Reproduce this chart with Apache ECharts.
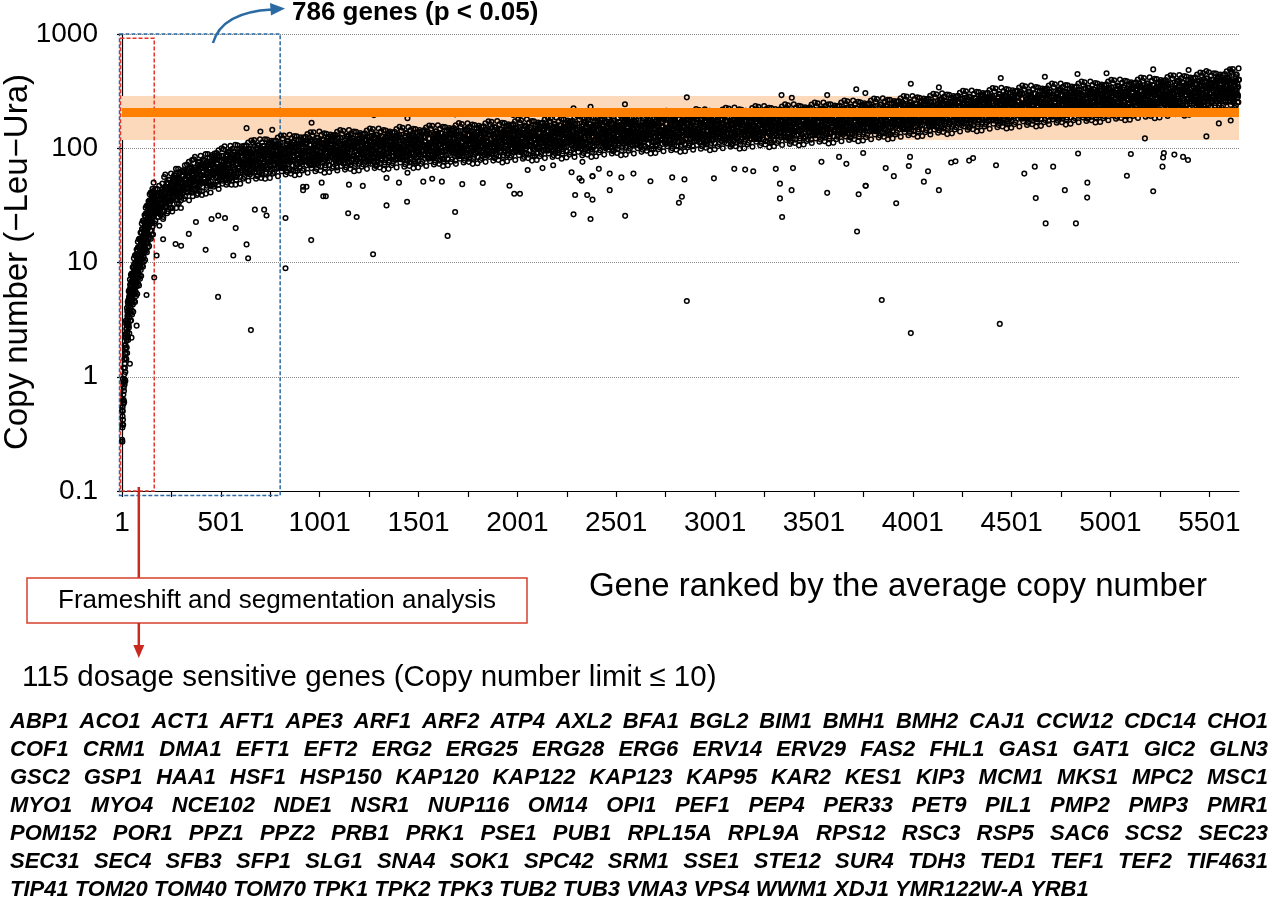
<!DOCTYPE html>
<html>
<head>
<meta charset="utf-8">
<script src="https://cdn.jsdelivr.net/npm/echarts@6/dist/echarts.min.js"></script>
<style>
  html, body { margin: 0; padding: 0; background: #fff; }
  #chart { width: 1280px; height: 904px; }
</style>
</head>
<body>
<div id="chart"></div>
<script>
// copy number of the lowest ranked genes, ranks 1..160 (two replicates per rank)
var headCopy = [
  0.28, 0.36, 0.45, 0.5, 0.42, 0.62, 0.7, 0.58, 0.8, 0.75,
  0.9, 1.05, 0.85, 1.3, 1.2, 1.6, 1.1, 1.9, 1.45, 2.2,
  1.8, 2.6, 2.1, 3.0, 2.4, 2.8, 3.4, 2.2, 3.8, 3.1,
  4.2, 3.5, 2.9, 4.6, 3.9, 5.0, 3.3, 4.4, 5.3, 3.7,
  4.8, 5.6, 4.1, 6.2, 5.1, 4.5, 5.9, 6.8, 4.9, 5.4,
  6.4, 5.8, 7.3, 5.2, 6.9, 6.1, 7.8, 5.5, 6.6, 8.2,
  7.0, 6.3, 8.6, 7.5, 5.9, 8.0, 9.1, 7.2, 6.7, 8.8,
  9.6, 7.7, 8.3, 10.2, 7.4, 9.0, 11.0, 8.5, 9.8, 7.9,
  10.6, 9.3, 12.0, 8.7, 11.4, 10.0, 13.2, 9.5, 11.8, 10.9,
  12.6, 9.9, 14.0, 11.2, 13.5, 10.4, 15.1, 12.2, 11.6, 14.6,
  13.0, 16.2, 12.4, 15.5, 11.9, 17.3, 13.8, 16.8, 14.3, 18.5,
  15.0, 13.4, 19.2, 16.5, 14.7, 20.4, 17.6, 15.8, 21.5, 18.1,
  16.9, 22.8, 19.5, 17.2, 24.0, 20.6, 18.4, 23.1, 21.2, 26.0,
  19.8, 24.6, 22.4, 27.5, 20.9, 25.3, 23.7, 28.6, 21.8, 26.7,
  24.4, 30.1, 22.9, 27.9, 25.8, 31.5, 23.6, 29.2, 26.4, 33.0,
  27.1, 24.8, 30.7, 28.3, 34.2, 25.9, 31.9, 29.5, 26.6, 35.5
];
var headCopy2 = [
  0.51, 0.27, 0.54, 0.38, 0.96, 0.38, 0.9, 0.63, 1.2, 0.6,
  0.6, 1.42, 0.9, 1.88, 0.94, 1.78, 0.92, 2.36, 1.6, 3.1,
  2.9, 1.43, 2.64, 1.8, 4.0, 1.61, 3.7, 2.47, 4.5, 2.24,
  2.1, 4.7, 2.8, 5.6, 2.7, 4.9, 2.4, 5.8, 3.8, 7.1,
  6.4, 3.1, 5.5, 3.6, 7.8, 3.1, 6.7, 4.4, 8.0, 3.8,
  3.5, 7.7, 4.6, 9.1, 4.3, 7.6, 3.7, 9.1, 5.9, 10.9,
  9.7, 4.6, 8.4, 5.3, 11.5, 4.5, 9.9, 6.5, 11.7, 5.5,
  5.1, 11.3, 6.6, 13.0, 6.2, 10.9, 5.3, 12.8, 8.2, 15.2,
  13.6, 6.5, 11.6, 7.4, 16.0, 6.3, 13.7, 9.0, 16.2, 7.7,
  7.2, 15.7, 9.3, 18.3, 8.6, 15.4, 7.6, 18.2, 11.7, 21.9,
  19.6, 9.4, 16.8, 10.7, 23.2, 9.2, 19.8, 13.0, 23.3, 11.1,
  10.2, 22.5, 13.2, 26.0, 12.2, 21.6, 10.5, 25.3, 16.2, 30.2,
  27.0, 12.8, 22.9, 14.6, 31.4, 12.3, 26.7, 17.4, 31.1, 14.7,
  13.6, 29.8, 17.5, 34.4, 16.2, 28.5, 13.9, 33.2, 21.3, 39.6,
  35.2, 16.7, 30.0, 19.0, 41.0, 16.1, 34.6, 22.6, 40.4, 19.0,
  17.6, 38.4, 22.5, 44.2, 20.7, 36.4, 17.6, 42.2, 27.0, 50.0
];

// rest of the ranking, every rank from 161 on, split in five interleaved lists:
// bodyCopy starts at rank 161, bodyCopy4 at 162, bodyCopy2 at 163,
// bodyCopy3 at 164, bodyCopy5 at 165; each steps 5 ranks
var bodyStep = 5;
var bodyStart = 161;
var bodyCopy = [
  30, 28, 35, 31, 39, 27, 35, 31, 40, 28,
  39, 44, 34, 50, 37, 41, 32, 46, 36, 43,
  54, 42, 47, 39, 51, 44, 60, 40, 46, 49,
  46, 54, 49, 60, 42, 56, 51, 62, 44, 53,
  63, 53, 43, 60, 56, 67, 51, 59, 50, 71,
  62, 55, 69, 59, 76, 51, 65, 57, 72, 48,
  78, 60, 67, 55, 73, 63, 86, 57, 65, 70,
  68, 76, 60, 88, 65, 72, 56, 80, 63, 75,
  82, 69, 56, 78, 73, 87, 67, 76, 64, 92,
  69, 80, 72, 89, 62, 83, 75, 92, 65, 78,
  80, 70, 90, 76, 98, 66, 84, 74, 93, 62,
  98, 76, 85, 70, 91, 80, 108, 72, 82, 88,
  82, 93, 73, 106, 79, 88, 68, 97, 77, 91,
  97, 81, 66, 92, 86, 102, 78, 90, 76, 108,
  79, 93, 84, 102, 72, 96, 87, 107, 76, 90,
  91, 80, 102, 86, 111, 76, 96, 84, 106, 71,
  90, 101, 80, 116, 86, 96, 74, 106, 84, 100,
  111, 86, 96, 79, 103, 90, 122, 82, 93, 100,
  85, 99, 89, 109, 77, 103, 93, 114, 81, 96,
  107, 89, 73, 102, 95, 112, 86, 99, 84, 119,
  97, 85, 109, 92, 118, 81, 102, 89, 113, 76,
  116, 89, 100, 82, 108, 94, 127, 85, 97, 104,
  96, 108, 85, 124, 92, 102, 79, 113, 89, 106,
  89, 104, 94, 115, 81, 108, 98, 120, 85, 101,
  112, 94, 77, 107, 100, 118, 91, 104, 88, 125,
  102, 90, 114, 97, 124, 85, 107, 94, 118, 80,
  100, 112, 89, 129, 96, 106, 82, 117, 93, 110,
  123, 95, 106, 87, 114, 100, 135, 90, 103, 110,
  94, 110, 100, 122, 86, 114, 104, 127, 90, 107,
  119, 100, 81, 113, 106, 125, 96, 110, 93, 133,
  109, 96, 122, 104, 133, 90, 114, 100, 126, 85,
  130, 100, 112, 92, 121, 106, 143, 96, 109, 117,
  109, 122, 96, 140, 104, 115, 90, 128, 101, 120,
  125, 105, 86, 120, 112, 132, 102, 116, 98, 140,
  102, 120, 108, 132, 93, 124, 113, 138, 98, 116,
  116, 102, 130, 110, 142, 96, 122, 107, 135, 90,
  114, 129, 101, 148, 110, 122, 94, 135, 106, 126,
  140, 108, 121, 100, 131, 114, 155, 104, 118, 126,
  107, 125, 113, 138, 97, 130, 118, 144, 102, 121,
  135, 113, 93, 129, 121, 143, 110, 126, 106, 151,
  123, 108, 138, 117, 150, 102, 129, 113, 143, 96,
  148, 114, 128, 105, 138, 120, 163, 109, 124, 133,
  122, 137, 108, 158, 117, 130, 101, 144, 113, 135,
  114, 133, 120, 147, 104, 138, 125, 154, 109, 129,
  143, 120, 98, 137, 128, 151, 116, 133, 112, 160,
  131, 115, 147, 124, 160, 109, 138, 121, 152, 102,
  128, 144, 114, 165, 123, 136, 106, 150, 119, 141,
  158, 122, 137, 113, 147, 129, 174, 117, 133, 142,
  120, 140, 127, 155, 109, 146, 132, 162, 115, 136,
  152, 127, 104, 145, 136, 160, 123, 141, 119, 170,
  138, 121, 155, 131, 168, 115, 145, 127, 160, 108,
  165, 127, 143, 118, 154, 134, 182, 122, 139, 148,
  137, 154, 121, 176, 131, 145, 113, 161, 127, 151,
  127, 149, 134, 164, 116, 154, 140, 172, 122, 144,
  161, 135, 110, 154, 144, 170, 131, 149, 126, 180,
  146, 128, 164, 139, 178, 121, 153, 134, 169, 114,
  144, 161, 127, 185, 138, 152, 118, 169, 133, 158,
  176, 136, 152, 125, 164, 143, 194, 130, 148, 158,
  134, 157, 142, 174, 122, 163, 148, 181, 128, 153,
  169, 141, 116, 161, 150, 178, 137, 157, 132, 188,
  154, 136, 172, 146, 188, 128, 162, 142, 179, 120,
  184, 142, 159, 131, 172, 150, 203, 136, 154, 165,
  152, 171, 135, 196, 146, 162, 126, 179, 141, 168,
  142, 165, 149, 183, 129, 172, 156, 191, 135, 161,
  179, 150, 122, 171, 159, 188, 145, 166, 140, 200,
  163, 143, 183, 155, 199, 135, 171, 150, 189, 127,
  160, 180, 142, 206, 153, 170, 132, 188, 149, 177,
  197, 152, 170, 140, 184, 160, 217, 145, 165, 177,
  150, 176, 159, 194, 137, 183, 166, 203, 144, 171,
  191, 160, 131, 182, 170, 201, 155, 177, 150, 213,
  174, 153, 195, 165, 212, 144, 183, 160, 202, 136,
  209, 161, 181, 149, 195, 170, 230, 154, 175, 188,
  174, 195, 154, 224, 166, 184, 143, 204, 161, 192,
  162, 189, 171, 209, 147, 197, 178, 218, 155, 184,
  205, 172, 141, 196, 183, 216, 167, 191, 161, 229,
  188, 165, 211, 179, 229, 156, 197, 173, 218, 147,
  185, 208, 164, 239, 178, 197, 153, 218, 172, 204,
  229, 177, 198, 163, 213, 186, 252, 169, 192, 206,
  175, 205, 185, 227, 160, 213, 193, 236, 167, 199,
  223, 187, 153, 213, 199, 235, 181, 207, 175, 249,
  205, 180, 230, 195, 250, 170, 215, 189, 238, 160,
  247, 190, 213, 176, 230, 201, 272, 182, 207, 222,
  207, 232, 183, 266, 198, 219, 170, 243, 192, 228,
  193, 226, 204, 250, 176, 234, 213, 260, 184, 219,
  245, 206, 168, 234, 219, 259, 199, 228, 192, 274,
  225, 198, 252, 214, 275, 187, 236, 207, 261, 176,
  222, 250, 197, 286, 213, 236, 183, 261, 206, 245,
  274, 211, 237, 195, 255, 223, 302, 202, 230, 246,
  209, 244, 221, 270, 190, 254, 230, 282, 200, 237,
  264, 221, 181, 252, 236, 278, 214, 245, 207, 295,
  242, 213, 271, 230, 295, 201, 254, 223, 281, 189,
  289, 223, 250, 206, 270, 235, 319, 213, 243, 260,
  241, 270, 213, 310, 231, 255, 198, 283, 223, 265,
  224, 262, 237, 290, 204, 272, 247, 302, 214, 255,
  283, 237, 194, 270, 252, 298, 230, 263, 222, 316,
  258, 227, 289, 245, 315, 214, 271, 237, 299, 201,
  254, 286, 225, 328, 244, 270, 210, 299, 236, 280,
  314, 242, 271, 223, 293, 255, 346, 231, 263, 282,
  240, 281, 254, 311, 219, 292, 265, 324, 230, 273,
  304, 255, 208, 290, 271, 321, 247, 282, 238, 340,
  278, 245, 311, 264, 339, 231, 292, 256, 322, 217,
  333, 257, 288, 237, 310, 271, 367, 245, 279, 299,
  278, 313, 247, 359, 267, 296, 230, 327, 258, 307,
  260, 304, 274, 336, 237, 315, 286, 350, 248, 295,
  330, 276, 226, 315, 294, 347, 267, 306, 258, 368,
  302, 266, 338, 287, 368, 251, 317, 278, 350, 236,
  299, 336, 265, 385, 286, 317, 246, 351, 277, 330,
  372, 287, 321, 265, 347, 302, 410, 274, 312, 334,
  287, 336, 304, 371, 262, 349, 317, 388, 275, 326,
  370, 310, 253, 353, 330, 390, 300, 343
];
var bodyStart2 = 163;
var bodyCopy2 = [
  22, 44, 29, 39, 25, 47, 33, 27, 42, 24,
  56, 33, 45, 27, 50, 38, 30, 60, 35, 47,
  37, 50, 66, 33, 53, 41, 62, 30, 57, 45,
  36, 71, 48, 63, 41, 76, 53, 44, 68, 38,
  80, 47, 64, 39, 72, 55, 43, 86, 50, 67,
  50, 67, 89, 45, 72, 56, 83, 41, 77, 61,
  46, 90, 61, 81, 51, 96, 67, 56, 86, 49,
  98, 57, 79, 48, 88, 67, 53, 105, 62, 83,
  59, 80, 107, 53, 86, 67, 99, 49, 92, 73,
  54, 105, 71, 94, 60, 112, 79, 65, 100, 57,
  112, 66, 90, 54, 101, 77, 61, 120, 70, 94,
  66, 90, 120, 60, 96, 75, 111, 55, 103, 81,
  60, 116, 78, 104, 66, 124, 87, 72, 111, 63,
  122, 71, 98, 59, 110, 84, 66, 131, 77, 103,
  71, 96, 128, 64, 103, 80, 119, 59, 110, 87,
  64, 124, 84, 111, 71, 133, 93, 77, 118, 67,
  130, 76, 105, 63, 117, 89, 71, 140, 82, 110,
  75, 102, 135, 68, 109, 85, 126, 62, 117, 92,
  67, 129, 87, 116, 74, 139, 97, 81, 124, 70,
  134, 79, 108, 65, 121, 92, 73, 144, 84, 113,
  78, 105, 140, 70, 113, 87, 130, 64, 120, 95,
  69, 133, 90, 120, 76, 143, 100, 83, 127, 73,
  139, 81, 112, 67, 125, 95, 75, 149, 87, 117,
  80, 108, 144, 72, 116, 90, 134, 66, 124, 98,
  71, 137, 93, 123, 79, 147, 103, 86, 131, 75,
  143, 84, 115, 69, 129, 98, 78, 153, 90, 120,
  82, 111, 148, 74, 119, 93, 138, 68, 128, 101,
  73, 141, 96, 127, 81, 152, 106, 88, 135, 77,
  148, 87, 120, 72, 134, 102, 81, 159, 93, 125,
  86, 116, 154, 77, 124, 96, 143, 71, 133, 105,
  76, 148, 100, 133, 85, 159, 111, 93, 142, 81,
  154, 90, 124, 75, 139, 106, 84, 165, 97, 130,
  90, 121, 161, 81, 130, 101, 150, 74, 139, 110,
  79, 154, 104, 138, 88, 165, 115, 96, 147, 84,
  161, 94, 130, 78, 145, 110, 87, 173, 101, 136,
  93, 125, 167, 84, 135, 104, 155, 77, 144, 114,
  83, 160, 109, 144, 92, 172, 120, 100, 153, 87,
  167, 98, 134, 81, 150, 114, 90, 179, 105, 140,
  96, 130, 173, 86, 139, 108, 161, 79, 149, 118,
  85, 166, 112, 149, 95, 178, 124, 104, 159, 90,
  172, 101, 139, 84, 155, 118, 93, 185, 108, 145,
  100, 135, 180, 90, 145, 113, 168, 83, 155, 123,
  88, 171, 116, 154, 98, 184, 129, 107, 164, 93,
  179, 105, 145, 87, 161, 123, 97, 192, 113, 151,
  103, 139, 186, 93, 150, 116, 173, 85, 160, 126,
  92, 178, 121, 160, 102, 191, 134, 111, 170, 97,
  185, 108, 149, 90, 166, 127, 100, 198, 116, 156,
  107, 145, 193, 96, 155, 121, 180, 88, 166, 131,
  95, 184, 124, 165, 105, 197, 138, 115, 176, 100,
  192, 112, 155, 93, 173, 132, 104, 206, 121, 162,
  110, 149, 199, 99, 160, 124, 185, 91, 171, 135,
  98, 190, 129, 171, 109, 204, 143, 119, 182, 104,
  197, 116, 159, 96, 178, 135, 107, 212, 124, 166,
  114, 154, 206, 103, 166, 129, 192, 94, 177, 140,
  102, 197, 133, 177, 113, 212, 148, 123, 189, 107,
  204, 120, 165, 99, 184, 140, 111, 219, 128, 172,
  118, 160, 213, 107, 172, 133, 198, 98, 184, 145,
  104, 203, 137, 182, 116, 218, 152, 127, 194, 110,
  211, 124, 171, 103, 190, 145, 115, 227, 133, 178,
  122, 164, 219, 109, 176, 137, 204, 100, 188, 149,
  108, 209, 142, 188, 120, 225, 157, 131, 200, 114,
  218, 128, 176, 106, 197, 150, 119, 234, 137, 184,
  126, 170, 226, 113, 182, 141, 210, 104, 195, 154,
  111, 216, 146, 194, 124, 232, 162, 135, 207, 118,
  225, 132, 182, 109, 203, 155, 122, 242, 142, 190,
  130, 176, 235, 117, 189, 147, 218, 108, 202, 160,
  116, 224, 152, 201, 129, 241, 168, 140, 215, 122,
  234, 137, 189, 114, 210, 160, 127, 251, 147, 197,
  135, 183, 243, 122, 196, 152, 226, 112, 210, 166,
  120, 234, 158, 210, 134, 251, 175, 146, 224, 127,
  244, 143, 197, 118, 219, 167, 132, 261, 153, 205,
  142, 191, 255, 127, 205, 159, 237, 117, 219, 173,
  125, 243, 165, 218, 140, 261, 183, 152, 233, 132,
  255, 149, 206, 124, 229, 175, 138, 273, 160, 215,
  148, 200, 266, 133, 215, 167, 248, 122, 229, 181,
  132, 256, 173, 229, 147, 274, 192, 160, 244, 139,
  267, 157, 216, 130, 241, 183, 145, 287, 168, 225,
  155, 210, 279, 140, 225, 175, 260, 128, 241, 190,
  138, 268, 181, 240, 154, 288, 201, 167, 256, 146,
  281, 165, 227, 137, 253, 193, 153, 302, 177, 237,
  164, 221, 295, 148, 238, 185, 275, 135, 254, 201,
  146, 284, 192, 255, 163, 305, 213, 178, 272, 155,
  298, 175, 241, 145, 268, 204, 162, 320, 187, 251,
  174, 234, 312, 156, 252, 195, 291, 143, 269, 213,
  155, 301, 203, 270, 172, 323, 225, 188, 287, 164,
  315, 185, 254, 153, 284, 216, 171, 338, 198, 266,
  183, 247, 330, 165, 266, 206, 307, 151, 284, 224,
  162, 316, 213, 283, 181, 339, 237, 197, 302, 172,
  329, 193, 266, 160, 296, 226, 179, 353, 207, 277,
  190, 257, 343, 171, 276, 214, 319, 157, 295, 233,
  169, 329, 223, 295, 189, 353, 247, 206, 315, 179,
  343, 201, 277, 167, 309, 235, 186, 368, 216, 289,
  198, 268, 357, 179, 288, 223, 332, 164, 308, 243,
  176, 343, 232, 307, 197, 368, 257, 214, 328, 186,
  357, 209, 288, 173, 321, 245, 194, 383, 224, 301,
  206, 279, 372, 186, 299, 232, 346, 170, 320, 253,
  183, 356, 241, 320, 204, 383, 267, 223, 341, 194,
  372, 218, 301, 181, 335, 255, 202, 399, 234, 314,
  216, 292, 389, 194, 313, 243, 362, 178, 335, 265,
  192, 373, 252, 334, 214, 400, 279, 233, 356, 203,
  389, 228, 314, 189, 350, 267, 211, 417, 245, 328,
  226, 305, 406, 203, 327, 254, 378, 186, 350, 276,
  201, 390, 264, 350, 224, 419, 293, 244, 373, 212,
  409, 239, 330, 199, 368, 280, 222, 438, 257, 345,
  238, 321, 428, 214, 345, 267, 398, 196, 368, 291,
  211, 411, 278, 368, 236, 441, 308, 257, 393, 223,
  431, 253, 348, 209, 388, 296, 234, 462, 271, 363,
  252, 340, 454, 227, 365, 284, 422, 208, 391, 309,
  226, 439, 297, 394, 252, 472, 329, 275, 420, 239,
  466, 273, 376, 226, 420, 320, 253, 500
];
var bodyStart3 = 164;
var bodyCopy3 = [
  38, 23, 33, 44, 28, 21, 41, 30, 49, 25,
  36, 59, 31, 44, 28, 53, 34, 48, 28, 56,
  58, 41, 30, 52, 66, 37, 49, 35, 62, 45,
  62, 38, 54, 72, 45, 35, 67, 49, 79, 41,
  52, 84, 44, 62, 40, 75, 48, 68, 39, 80,
  79, 55, 40, 71, 89, 50, 66, 47, 84, 60,
  79, 48, 69, 91, 57, 44, 84, 62, 100, 52,
  64, 104, 54, 76, 50, 92, 59, 83, 48, 99,
  94, 66, 48, 84, 106, 60, 78, 56, 100, 72,
  92, 56, 80, 106, 67, 52, 99, 72, 117, 61,
  73, 118, 62, 87, 57, 106, 67, 95, 55, 113,
  105, 74, 54, 95, 119, 67, 88, 62, 112, 81,
  102, 62, 88, 117, 74, 57, 109, 80, 129, 67,
  79, 129, 67, 95, 62, 115, 73, 104, 60, 123,
  113, 79, 58, 101, 127, 72, 94, 67, 120, 86,
  109, 66, 95, 126, 79, 61, 116, 86, 138, 72,
  85, 138, 72, 101, 66, 123, 78, 111, 64, 131,
  119, 84, 61, 107, 134, 76, 100, 71, 127, 91,
  114, 69, 99, 131, 83, 64, 122, 89, 144, 75,
  87, 142, 74, 105, 68, 127, 81, 114, 66, 135,
  123, 86, 63, 111, 139, 79, 103, 73, 131, 94,
  118, 72, 102, 135, 85, 66, 125, 92, 149, 77,
  90, 147, 76, 108, 70, 131, 83, 118, 68, 140,
  127, 89, 65, 114, 143, 81, 106, 75, 135, 97,
  121, 74, 105, 139, 88, 68, 129, 95, 154, 80,
  93, 151, 79, 111, 72, 135, 86, 121, 70, 144,
  131, 92, 67, 117, 147, 83, 109, 77, 139, 100,
  125, 76, 108, 144, 90, 70, 133, 98, 158, 82,
  96, 157, 82, 116, 75, 140, 89, 126, 73, 149,
  136, 95, 70, 122, 153, 87, 113, 80, 144, 104,
  131, 80, 113, 150, 95, 73, 140, 102, 166, 86,
  100, 163, 85, 120, 78, 145, 92, 131, 76, 155,
  142, 100, 73, 128, 160, 91, 119, 84, 151, 109,
  136, 82, 118, 156, 98, 76, 145, 106, 172, 89,
  105, 170, 89, 125, 82, 152, 97, 137, 79, 162,
  147, 103, 75, 132, 166, 94, 123, 87, 157, 113,
  142, 86, 123, 163, 103, 79, 151, 111, 179, 93,
  108, 176, 92, 130, 84, 157, 100, 142, 82, 168,
  152, 107, 78, 137, 172, 97, 127, 90, 162, 116,
  146, 89, 127, 168, 106, 82, 156, 115, 185, 96,
  112, 182, 95, 134, 87, 162, 103, 146, 85, 173,
  159, 111, 81, 143, 179, 101, 133, 94, 169, 121,
  151, 92, 131, 174, 110, 84, 161, 118, 192, 100,
  116, 189, 99, 140, 91, 169, 108, 152, 88, 180,
  164, 115, 84, 147, 184, 104, 137, 97, 174, 125,
  157, 96, 136, 181, 114, 88, 168, 123, 199, 103,
  120, 195, 102, 144, 94, 174, 111, 157, 91, 186,
  170, 119, 87, 153, 192, 109, 142, 101, 181, 130,
  162, 99, 140, 186, 117, 90, 173, 127, 205, 107,
  125, 203, 105, 149, 97, 181, 115, 163, 95, 193,
  175, 123, 90, 157, 197, 112, 146, 104, 186, 134,
  168, 102, 146, 193, 122, 94, 179, 132, 213, 111,
  128, 209, 109, 154, 100, 186, 118, 168, 97, 199,
  182, 127, 93, 163, 204, 116, 152, 107, 193, 139,
  174, 106, 151, 200, 126, 97, 186, 136, 220, 115,
  133, 216, 112, 159, 104, 193, 123, 174, 101, 206,
  188, 132, 96, 169, 212, 120, 157, 111, 200, 144,
  179, 109, 155, 206, 130, 100, 191, 140, 226, 118,
  137, 223, 116, 165, 107, 199, 127, 180, 104, 213,
  193, 135, 99, 173, 217, 123, 161, 114, 205, 147,
  185, 112, 160, 213, 134, 103, 197, 145, 234, 122,
  142, 231, 120, 170, 111, 206, 131, 186, 108, 220,
  199, 140, 102, 179, 225, 127, 166, 118, 212, 152,
  191, 116, 165, 219, 138, 107, 204, 149, 242, 126,
  147, 238, 124, 175, 114, 213, 135, 192, 111, 227,
  207, 145, 106, 186, 233, 132, 173, 122, 220, 158,
  198, 120, 172, 228, 144, 111, 211, 155, 251, 130,
  152, 247, 129, 182, 119, 220, 140, 199, 115, 235,
  215, 150, 110, 193, 242, 137, 179, 127, 228, 164,
  206, 126, 179, 237, 150, 115, 220, 162, 261, 136,
  158, 258, 134, 190, 124, 230, 146, 207, 120, 245,
  225, 158, 115, 202, 253, 143, 188, 133, 239, 172,
  215, 131, 186, 247, 156, 120, 229, 168, 272, 141,
  166, 269, 140, 198, 129, 240, 153, 217, 126, 257,
  235, 165, 120, 211, 265, 150, 196, 139, 250, 179,
  226, 137, 196, 259, 164, 126, 241, 177, 286, 149,
  174, 283, 147, 208, 136, 252, 160, 227, 132, 269,
  246, 173, 126, 221, 277, 157, 206, 146, 262, 188,
  236, 144, 205, 272, 171, 132, 252, 185, 299, 156,
  183, 297, 155, 219, 143, 265, 169, 239, 139, 283,
  260, 182, 133, 234, 293, 166, 217, 154, 277, 199,
  251, 153, 217, 288, 182, 140, 268, 196, 318, 165,
  194, 315, 164, 232, 151, 281, 179, 253, 147, 300,
  276, 193, 141, 247, 310, 176, 230, 163, 293, 210,
  265, 161, 230, 305, 192, 148, 283, 208, 336, 175,
  205, 333, 173, 245, 160, 297, 189, 268, 155, 317,
  291, 204, 149, 261, 327, 185, 243, 172, 309, 222,
  278, 169, 241, 320, 202, 155, 297, 218, 353, 183,
  214, 348, 181, 256, 167, 310, 197, 280, 162, 331,
  302, 212, 155, 271, 340, 193, 252, 179, 321, 231,
  290, 177, 252, 334, 211, 162, 310, 227, 368, 191,
  223, 363, 189, 267, 174, 323, 206, 292, 169, 345,
  315, 221, 161, 283, 355, 201, 263, 186, 335, 241,
  302, 184, 262, 348, 219, 169, 323, 237, 383, 199,
  232, 377, 196, 278, 181, 337, 214, 303, 176, 360,
  328, 230, 168, 294, 369, 209, 273, 194, 348, 250,
  314, 191, 272, 362, 228, 176, 335, 246, 398, 207,
  242, 394, 205, 290, 189, 351, 223, 317, 184, 375,
  343, 240, 176, 308, 386, 219, 286, 203, 365, 262,
  329, 200, 285, 378, 238, 184, 351, 258, 416, 216,
  253, 411, 214, 303, 197, 367, 234, 331, 192, 392,
  358, 251, 183, 321, 403, 228, 299, 212, 381, 274,
  344, 210, 298, 396, 250, 192, 367, 270, 436, 227,
  266, 432, 225, 318, 207, 385, 245, 347, 201, 412,
  377, 264, 193, 339, 425, 241, 315, 223, 401, 288,
  362, 220, 314, 417, 263, 202, 387, 284, 459, 239,
  280, 456, 237, 336, 219, 407, 259, 367, 213, 434,
  400, 280, 205, 359, 450, 255, 334, 236, 425, 306,
  388, 236, 336, 446, 281, 216, 413, 304, 491, 255,
  303, 493, 256, 363, 236, 440, 280, 396
];
var bodyStart4 = 162;
var bodyCopy4 = [
  34, 27, 38, 31, 25, 36, 29, 40, 32, 28,
  37, 46, 32, 42, 49, 35, 44, 30, 40, 47,
  52, 44, 60, 38, 46, 33, 54, 42, 49, 40,
  43, 53, 48, 63, 45, 58, 50, 70, 41, 55,
  60, 48, 68, 55, 45, 64, 51, 71, 58, 50,
  58, 71, 50, 64, 76, 55, 68, 47, 61, 73,
  75, 63, 86, 55, 66, 48, 78, 60, 71, 57,
  57, 71, 64, 85, 60, 78, 68, 95, 55, 74,
  78, 62, 88, 72, 58, 83, 67, 93, 75, 64,
  72, 89, 62, 80, 94, 68, 84, 59, 76, 90,
  90, 76, 105, 66, 80, 58, 94, 73, 86, 69,
  68, 85, 76, 100, 71, 92, 81, 112, 65, 87,
  90, 71, 101, 82, 67, 95, 77, 106, 86, 74,
  81, 100, 70, 90, 106, 77, 95, 66, 86, 102,
  101, 85, 117, 74, 89, 64, 105, 81, 95, 77,
  75, 93, 84, 110, 78, 101, 88, 123, 71, 96,
  99, 78, 111, 90, 73, 104, 84, 116, 94, 81,
  87, 108, 76, 98, 115, 83, 102, 71, 93, 110,
  107, 90, 124, 79, 95, 68, 112, 86, 102, 82,
  79, 98, 88, 116, 83, 107, 93, 130, 75, 101,
  103, 81, 115, 94, 77, 109, 87, 121, 98, 84,
  91, 113, 79, 102, 120, 86, 107, 74, 97, 115,
  112, 94, 130, 82, 99, 71, 117, 90, 106, 85,
  82, 102, 92, 121, 86, 111, 97, 135, 78, 105,
  107, 85, 120, 98, 80, 113, 91, 126, 102, 88,
  95, 117, 83, 106, 124, 90, 111, 78, 101, 119,
  116, 98, 135, 85, 103, 74, 122, 94, 110, 89,
  85, 106, 96, 126, 89, 115, 101, 140, 81, 109,
  112, 89, 126, 103, 84, 119, 95, 133, 107, 92,
  100, 123, 87, 111, 131, 94, 117, 81, 106, 125,
  123, 104, 143, 90, 109, 78, 129, 99, 117, 94,
  90, 112, 101, 133, 95, 122, 107, 149, 86, 116,
  119, 94, 133, 109, 88, 125, 101, 140, 113, 97,
  105, 130, 92, 118, 138, 99, 123, 86, 112, 132,
  130, 109, 151, 95, 115, 83, 136, 105, 123, 99,
  95, 118, 107, 140, 100, 129, 113, 157, 90, 122,
  125, 99, 140, 114, 93, 132, 106, 148, 119, 103,
  111, 137, 96, 124, 145, 105, 130, 90, 118, 139,
  136, 114, 157, 100, 120, 86, 142, 109, 128, 103,
  100, 124, 112, 148, 105, 135, 118, 165, 95, 128,
  130, 103, 146, 119, 97, 138, 111, 154, 124, 107,
  116, 144, 101, 130, 153, 110, 136, 95, 124, 146,
  142, 120, 165, 105, 126, 91, 149, 115, 135, 108,
  105, 131, 118, 155, 110, 142, 124, 173, 100, 134,
  137, 108, 154, 125, 102, 144, 116, 161, 130, 112,
  122, 151, 106, 136, 160, 115, 143, 100, 130, 153,
  149, 125, 173, 110, 132, 95, 156, 120, 141, 114,
  110, 137, 123, 162, 115, 149, 130, 181, 105, 141,
  143, 113, 161, 131, 107, 151, 122, 169, 136, 117,
  127, 158, 111, 142, 167, 121, 149, 104, 136, 160,
  156, 131, 181, 115, 138, 99, 163, 126, 148, 119,
  115, 143, 129, 169, 120, 155, 136, 189, 109, 147,
  149, 118, 168, 137, 111, 158, 127, 176, 142, 123,
  133, 164, 116, 149, 174, 126, 156, 109, 142, 167,
  164, 138, 190, 120, 145, 104, 171, 132, 155, 125,
  120, 149, 134, 177, 126, 162, 142, 197, 114, 153,
  157, 124, 176, 144, 117, 166, 133, 185, 149, 129,
  139, 171, 121, 155, 182, 131, 162, 113, 148, 174,
  171, 143, 198, 125, 151, 109, 178, 137, 162, 130,
  125, 155, 140, 184, 131, 169, 147, 205, 119, 160,
  163, 129, 183, 149, 122, 172, 139, 193, 156, 134,
  145, 179, 126, 162, 190, 137, 170, 119, 154, 183,
  177, 149, 206, 130, 157, 113, 185, 143, 168, 135,
  130, 162, 146, 192, 137, 176, 154, 215, 124, 167,
  171, 135, 192, 156, 127, 180, 145, 201, 163, 140,
  152, 187, 132, 170, 199, 143, 178, 124, 161, 191,
  186, 157, 216, 137, 165, 119, 195, 150, 177, 142,
  137, 170, 154, 202, 144, 185, 162, 225, 130, 175,
  179, 142, 201, 164, 134, 189, 152, 211, 171, 147,
  160, 198, 139, 179, 210, 151, 187, 131, 170, 201,
  197, 165, 228, 144, 174, 125, 205, 158, 186, 150,
  145, 181, 163, 214, 152, 196, 172, 239, 138, 186,
  190, 150, 213, 174, 141, 200, 161, 224, 181, 156,
  169, 209, 147, 189, 222, 160, 198, 138, 180, 213,
  209, 176, 242, 154, 185, 133, 218, 168, 198, 159,
  154, 192, 173, 227, 162, 209, 182, 254, 147, 197,
  202, 160, 227, 185, 151, 214, 172, 239, 193, 166,
  180, 223, 157, 202, 237, 171, 211, 147, 192, 227,
  223, 187, 258, 164, 197, 142, 232, 179, 211, 169,
  165, 205, 185, 243, 173, 223, 195, 271, 157, 211,
  217, 172, 244, 199, 162, 230, 185, 256, 207, 178,
  194, 240, 169, 217, 255, 184, 228, 159, 207, 245,
  241, 202, 279, 177, 213, 153, 251, 194, 228, 183,
  178, 221, 200, 263, 187, 241, 210, 293, 169, 228,
  234, 186, 263, 214, 175, 248, 199, 276, 223, 192,
  209, 259, 182, 234, 275, 198, 245, 171, 223, 263,
  259, 218, 300, 190, 229, 165, 270, 208, 245, 197,
  190, 237, 213, 281, 200, 258, 225, 313, 181, 244,
  249, 197, 280, 228, 186, 263, 212, 294, 237, 204,
  221, 274, 193, 248, 290, 209, 259, 181, 236, 278,
  273, 230, 317, 201, 242, 174, 286, 220, 259, 208,
  201, 250, 225, 296, 211, 272, 238, 331, 191, 257,
  263, 208, 295, 241, 196, 278, 223, 310, 250, 216,
  234, 290, 204, 262, 307, 222, 275, 192, 249, 295,
  288, 242, 334, 212, 255, 184, 301, 232, 273, 219,
  212, 263, 237, 312, 222, 286, 250, 348, 201, 271,
  278, 220, 312, 254, 207, 293, 236, 328, 265, 228,
  247, 306, 215, 277, 325, 234, 290, 202, 263, 311,
  305, 257, 354, 224, 270, 194, 319, 246, 289, 232,
  225, 279, 252, 332, 236, 304, 266, 370, 214, 288,
  295, 234, 331, 270, 220, 311, 250, 348, 281, 242,
  262, 324, 228, 293, 344, 248, 307, 214, 279, 330,
  324, 273, 376, 238, 287, 207, 339, 261, 307, 247,
  239, 298, 269, 353, 251, 324, 283, 394, 228, 307,
  315, 249, 353, 288, 235, 333, 267, 371, 300, 258,
  281, 347, 245, 314, 368, 266, 329, 230, 299, 353,
  348, 293, 403, 256, 308, 222, 363, 280, 330, 265,
  258, 321, 290, 381, 271, 350, 306, 425, 246, 331,
  342, 271, 384, 313, 255, 362, 291, 404, 326, 281,
  310, 383, 270, 346, 406, 293, 363, 253
];
var bodyStart5 = 165;
var bodyCopy5 = [
  40, 32, 27, 35, 30, 41, 26, 33, 37, 28,
  38, 31, 46, 36, 53, 40, 35, 48, 30, 43,
  40, 58, 48, 35, 45, 54, 43, 38, 64, 47,
  64, 52, 44, 57, 49, 67, 42, 54, 60, 46,
  55, 44, 65, 51, 76, 58, 50, 68, 42, 62,
  55, 78, 65, 47, 61, 73, 58, 51, 87, 63,
  82, 66, 56, 73, 62, 85, 53, 68, 77, 59,
  67, 55, 80, 63, 93, 71, 61, 84, 52, 76,
  65, 93, 78, 56, 73, 87, 69, 61, 104, 75,
  95, 77, 65, 85, 72, 99, 62, 79, 89, 69,
  77, 62, 91, 72, 106, 81, 70, 96, 59, 86,
  73, 105, 87, 62, 81, 98, 77, 69, 116, 85,
  105, 85, 72, 94, 80, 110, 68, 88, 99, 76,
  84, 68, 99, 78, 116, 88, 76, 104, 64, 94,
  78, 112, 93, 67, 87, 105, 83, 74, 125, 91,
  113, 91, 77, 100, 86, 117, 73, 94, 106, 81,
  89, 73, 106, 84, 124, 94, 81, 112, 69, 100,
  83, 118, 99, 71, 92, 111, 87, 78, 132, 96,
  118, 95, 81, 105, 89, 123, 76, 98, 110, 85,
  92, 75, 109, 86, 128, 97, 84, 115, 71, 104,
  85, 122, 102, 73, 95, 114, 90, 81, 136, 99,
  122, 98, 83, 108, 92, 126, 78, 101, 114, 87,
  95, 77, 113, 89, 132, 100, 86, 119, 73, 107,
  88, 126, 105, 75, 98, 118, 93, 83, 140, 102,
  125, 101, 86, 111, 95, 130, 81, 104, 117, 90,
  98, 80, 116, 92, 136, 103, 89, 122, 75, 110,
  91, 130, 108, 77, 101, 122, 96, 85, 144, 105,
  129, 104, 88, 114, 98, 134, 83, 107, 121, 93,
  102, 83, 121, 95, 141, 107, 92, 127, 78, 114,
  94, 135, 112, 80, 105, 126, 100, 89, 150, 109,
  135, 109, 93, 120, 102, 141, 87, 112, 126, 97,
  106, 86, 125, 99, 146, 111, 96, 132, 81, 119,
  99, 141, 118, 84, 110, 132, 104, 93, 157, 114,
  140, 113, 96, 124, 106, 146, 90, 116, 131, 101,
  110, 90, 131, 104, 153, 116, 100, 138, 85, 124,
  102, 146, 122, 87, 114, 137, 108, 96, 162, 118,
  146, 118, 100, 130, 111, 152, 94, 122, 137, 105,
  114, 93, 136, 107, 158, 120, 104, 143, 88, 129,
  106, 151, 126, 90, 118, 142, 112, 100, 168, 122,
  151, 122, 104, 134, 115, 157, 98, 126, 142, 109,
  118, 96, 140, 111, 164, 124, 107, 148, 91, 133,
  110, 158, 131, 94, 123, 148, 116, 104, 175, 128,
  156, 126, 107, 139, 118, 163, 101, 130, 146, 112,
  123, 100, 146, 115, 170, 129, 111, 154, 95, 138,
  114, 163, 135, 97, 126, 152, 120, 107, 181, 132,
  162, 131, 111, 144, 123, 169, 105, 135, 152, 117,
  127, 103, 150, 119, 176, 133, 115, 158, 98, 143,
  118, 169, 141, 101, 131, 158, 125, 111, 188, 137,
  167, 135, 115, 149, 127, 174, 108, 139, 157, 120,
  132, 107, 156, 123, 182, 138, 119, 164, 101, 148,
  121, 174, 145, 104, 135, 163, 128, 115, 193, 141,
  174, 140, 119, 154, 132, 181, 112, 144, 162, 125,
  135, 110, 161, 127, 188, 142, 123, 169, 104, 152,
  126, 180, 150, 107, 140, 169, 133, 119, 200, 146,
  180, 145, 123, 160, 136, 187, 116, 149, 168, 129,
  140, 114, 166, 131, 194, 147, 127, 175, 108, 158,
  130, 186, 155, 111, 145, 175, 138, 123, 207, 151,
  185, 149, 127, 164, 140, 192, 119, 153, 173, 133,
  145, 118, 172, 136, 201, 153, 131, 181, 112, 163,
  134, 192, 160, 114, 149, 179, 141, 126, 213, 155,
  191, 154, 131, 169, 145, 199, 123, 159, 179, 137,
  150, 122, 178, 140, 207, 158, 136, 187, 115, 168,
  138, 198, 165, 118, 154, 185, 146, 130, 220, 160,
  197, 159, 135, 175, 149, 205, 127, 164, 184, 142,
  155, 126, 184, 145, 214, 163, 140, 193, 119, 174,
  143, 205, 171, 122, 160, 192, 152, 135, 228, 166,
  205, 165, 140, 182, 155, 213, 132, 170, 191, 147,
  160, 130, 190, 150, 222, 169, 145, 200, 124, 180,
  149, 213, 177, 127, 166, 199, 157, 140, 237, 172,
  213, 172, 146, 189, 162, 222, 138, 177, 200, 153,
  167, 136, 198, 157, 231, 176, 151, 209, 129, 188,
  156, 223, 186, 133, 173, 209, 165, 147, 248, 181,
  222, 179, 152, 197, 168, 231, 143, 184, 208, 159,
  175, 142, 207, 164, 242, 184, 158, 218, 135, 197,
  163, 233, 194, 139, 181, 218, 172, 154, 259, 189,
  233, 188, 160, 207, 177, 243, 150, 194, 218, 167,
  183, 149, 218, 172, 254, 193, 166, 229, 141, 206,
  171, 244, 204, 146, 190, 229, 180, 161, 272, 198,
  244, 197, 167, 217, 185, 254, 158, 203, 229, 175,
  193, 157, 229, 181, 267, 203, 175, 241, 149, 217,
  180, 258, 215, 154, 201, 242, 191, 170, 287, 209,
  259, 209, 178, 230, 196, 270, 167, 215, 242, 186,
  204, 166, 243, 192, 283, 215, 185, 256, 158, 230,
  191, 273, 228, 163, 213, 256, 202, 180, 304, 221,
  274, 221, 188, 243, 208, 285, 177, 228, 256, 197,
  216, 176, 257, 203, 299, 227, 196, 270, 167, 243,
  202, 289, 240, 172, 224, 270, 213, 190, 321, 234,
  288, 232, 197, 255, 218, 299, 186, 239, 269, 206,
  226, 183, 268, 212, 313, 237, 204, 282, 174, 254,
  209, 300, 250, 179, 233, 281, 221, 198, 333, 243,
  300, 242, 206, 266, 227, 312, 194, 249, 281, 215,
  235, 191, 279, 221, 326, 247, 213, 294, 181, 265,
  218, 312, 260, 186, 243, 293, 231, 206, 347, 253,
  312, 252, 214, 277, 237, 325, 202, 260, 292, 224,
  245, 199, 291, 230, 339, 258, 222, 306, 189, 275,
  227, 325, 271, 194, 253, 304, 240, 214, 361, 263,
  325, 262, 223, 288, 246, 338, 210, 270, 304, 233,
  255, 207, 303, 239, 354, 269, 231, 319, 197, 287,
  238, 340, 284, 203, 265, 319, 251, 224, 378, 275,
  340, 274, 233, 301, 258, 353, 219, 282, 318, 244,
  267, 217, 317, 250, 370, 281, 242, 334, 206, 300,
  248, 355, 296, 212, 276, 333, 262, 234, 395, 288,
  356, 287, 244, 316, 270, 370, 230, 296, 333, 255,
  280, 228, 333, 263, 388, 295, 254, 350, 216, 315,
  261, 374, 312, 223, 291, 350, 276, 247, 416, 303,
  374, 302, 257, 332, 284, 390, 242, 311, 350, 269,
  296, 240, 351, 277, 410, 311, 268, 370, 228, 333,
  277, 397, 331, 236, 309, 372, 293, 261, 441, 321,
  401, 323, 275, 355, 304, 417, 258, 333, 375, 287,
  320, 260, 380, 300, 443, 336, 290, 400
];

// genes lying away from the main band (rank, copy number)
var outlierRank = [
  486, 652, 3990, 4440, 3843, 2857, 957, 1270, 563, 638,
  630, 423, 827, 575, 521, 487, 453, 374, 299, 271,
  338, 203, 672, 719, 731, 827, 1018, 1031, 74, 48,
  40, 31, 124, 163, 175, 208, 1144, 1187, 1338, 1442,
  1010, 1647, 1685, 916, 933, 916, 2284, 2370, 2353, 2292,
  2380, 1984, 2013, 1960, 1721, 2329, 2274, 2314, 2380, 1218,
  1148, 1338, 1401, 1444, 1524, 1569, 1618, 1825, 2127, 2181,
  2052, 2545, 2817, 2832, 2467, 3328, 3339, 3328, 3387, 3567,
  3726, 3761, 3718, 2325, 2380, 2412, 2467, 2526, 2587, 2673,
  2783, 2845, 2994, 3097, 3152, 3193, 3307, 3394, 3538, 3627,
  3664, 4672, 4825, 4622, 4882, 4769, 4883, 5216, 3916, 4132,
  3762, 4056, 3863, 3904, 3980, 4077, 4194, 4216, 4285, 4305,
  4421, 4564, 4617, 4710, 5083, 5263, 5266, 5270, 5323, 5392,
  5367, 5103, 4836, 3749, 3986,
  1274, 1647, 1685, 959, 2284, 2370, 1444, 1979, 2013, 2857,
  3567, 3714, 3760, 3336, 3388, 2544, 5216, 4980, 4833, 4668,
  4445, 3990, 4132, 5485, 5608, 5395, 5608, 5485, 5174, 5548,
  630, 700, 760
];
var outlierCopy = [
  5.0, 2.56, 2.41, 2.9, 4.7, 4.6, 15.7, 11.8, 11.5, 10.9,
  14.4, 12.9, 8.9, 20, 24.5, 25.7, 24, 22.6, 14, 14.5,
  17.8, 43.8, 29, 29, 25.8, 24.5, 38, 38, 2.8, 2.2,
  1.3, 3.7, 5.2, 7.4, 11.5, 16, 27, 25, 31.6, 34,
  50, 17.1, 27.7, 46, 46, 43, 26.4, 24, 39, 39,
  35.5, 40, 40, 47, 48.5, 76, 61.6, 54.5, 56.8, 46.8,
  48, 55, 50, 61, 51, 54, 51, 49.6, 67, 71,
  64.5, 25.6, 33.3, 37.6, 43, 36.4, 25, 49, 43, 40.7,
  39.6, 47, 18.7, 52, 57, 66, 60, 55.6, 60, 51.4,
  55.6, 53.4, 54.5, 66, 65, 63, 66, 67, 76, 84,
  73, 22, 22, 36.6, 37, 43, 50, 42, 33, 43,
  47, 51, 67, 57, 70, 63, 75, 77, 78, 82,
  71, 60, 69, 69, 57.5, 69, 83, 91, 88, 79,
  84, 89, 90, 91, 84,
  195, 206, 198, 167, 224, 231, 183, 195, 195, 279,
  292, 328, 304, 292, 277, 243, 490, 453, 447, 423,
  412, 367, 341, 474, 474, 484, 175, 127, 122, 165,
  150, 140, 145
];

// x axis: ticks every 250 ranks, labels every 500 (shown as rank 1, 501, ...)
var xTickValues = [0, 250, 500, 750, 1000, 1250, 1500, 1750, 2000, 2250, 2500, 2750,
  3000, 3250, 3500, 3750, 4000, 4250, 4500, 4750, 5000, 5250, 5500];
var xLabelValues = [0, 500, 1000, 1500, 2000, 2500, 3000, 3500, 4000, 4500, 5000, 5500];

// reference copy number (orange line) and its range (light band)
var refCopy = 205;
var refLow = 118;
var refHigh = 286;

var geneLines = [
  'ABP1 ACO1 ACT1 AFT1 APE3 ARF1 ARF2 ATP4 AXL2 BFA1 BGL2 BIM1 BMH1 BMH2 CAJ1 CCW12 CDC14 CHO1',
  'COF1 CRM1 DMA1 EFT1 EFT2 ERG2 ERG25 ERG28 ERG6 ERV14 ERV29 FAS2 FHL1 GAS1 GAT1 GIC2 GLN3',
  'GSC2 GSP1 HAA1 HSF1 HSP150 KAP120 KAP122 KAP123 KAP95 KAR2 KES1 KIP3 MCM1 MKS1 MPC2 MSC1',
  'MYO1 MYO4 NCE102 NDE1 NSR1 NUP116 OM14 OPI1 PEF1 PEP4 PER33 PET9 PIL1 PMP2 PMP3 PMR1',
  'POM152 POR1 PPZ1 PPZ2 PRB1 PRK1 PSE1 PUB1 RPL15A RPL9A RPS12 RSC3 RSP5 SAC6 SCS2 SEC23',
  'SEC31 SEC4 SFB3 SFP1 SLG1 SNA4 SOK1 SPC42 SRM1 SSE1 STE12 SUR4 TDH3 TED1 TEF1 TEF2 TIF4631',
  'TIP41 TOM20 TOM40 TOM70 TPK1 TPK2 TPK3 TUB2 TUB3 VMA3 VPS4 WWM1 XDJ1 YMR122W-A YRB1'
];

var FONT = '"Liberation Sans", Arial, Helvetica, sans-serif';

// build the [rank, copy] pairs
var points = [];
headCopy.forEach(function (v, i) { points.push([i + 1, v]); });
headCopy2.forEach(function (v, i) { points.push([i + 1, v]); });
[[bodyStart, bodyCopy], [bodyStart4, bodyCopy4], [bodyStart2, bodyCopy2],
 [bodyStart3, bodyCopy3], [bodyStart5, bodyCopy5]].forEach(function (s) {
  s[1].forEach(function (v, i) { points.push([s[0] + i * bodyStep, v]); });
});
outlierRank.forEach(function (r, i) { points.push([r, outlierCopy[i]]); });

var chart = echarts.init(document.getElementById('chart'));

chart.setOption({
  animation: false,
  grid: { left: 122, right: 41, top: 34, bottom: 413 },
  xAxis: {
    type: 'value',
    min: 0,
    max: 5650,
    axisLine: { lineStyle: { color: '#000', width: 1.2 } },
    axisTick: { show: true, length: 6, customValues: xTickValues, lineStyle: { color: '#000', width: 1.2 } },
    axisLabel: {
      customValues: xLabelValues,
      formatter: function (v) { return String(v + 1); },
      fontSize: 28, color: '#000', fontFamily: FONT, margin: 18
    },
    splitLine: { show: false }
  },
  yAxis: {
    type: 'log',
    logBase: 10,
    min: 0.1,
    max: 1000,
    axisLine: { show: true, lineStyle: { color: '#000', width: 1.2 } },
    axisTick: { show: true, length: 5, lineStyle: { color: '#000', width: 1.2 } },
    axisLabel: {
      formatter: function (v) { return String(+v.toPrecision(3)); },
      fontSize: 28, color: '#000', fontFamily: FONT, margin: 24
    },
    splitLine: { show: true, lineStyle: { color: '#8a8a8a', type: 'dotted', width: 1 } }
  },
  series: [
    {
      // holds the orange reference line and band, drawn under the points
      type: 'scatter',
      z: 1,
      data: [],
      silent: true,
      markArea: {
        silent: true,
        itemStyle: { color: '#fdd9bc' },
        data: [[{ yAxis: refLow }, { yAxis: refHigh }]]
      },
      markLine: {
        silent: true,
        symbol: ['none', 'none'],
        label: { show: false },
        lineStyle: { color: '#ff7f00', width: 9, type: 'solid' },
        data: [{ yAxis: refCopy }]
      }
    },
    {
      type: 'scatter',
      z: 3,
      silent: true,
      large: false,
      progressive: 0,
      data: points,
      symbol: 'circle',
      symbolSize: 4.6,
      itemStyle: { color: 'rgba(255,255,255,0)', borderColor: '#000', borderWidth: 1.5, opacity: 1 }
    }
  ]
});

function px(rank, copy) {
  return chart.convertToPixel({ gridIndex: 0 }, [rank, copy]);
}

var g = [];

// blue dashed box: genes with p < 0.05
var b0 = px(0, 1000), b1 = px(800, 0.1);
g.push({
  type: 'rect', silent: true, z: 10,
  shape: { x: b0[0] - 2.5, y: b0[1], width: b1[0] - b0[0] + 2.5, height: b1[1] - b0[1] + 4.5 },
  style: { fill: 'none', stroke: '#2d6aa5', lineWidth: 1.5, lineDash: [4, 2] }
});

// red dashed box: dosage sensitive genes
var r0 = px(0, 920), r1 = px(163, 0.1);
g.push({
  type: 'rect', silent: true, z: 10,
  shape: { x: r0[0] - 1.5, y: r0[1], width: r1[0] - r0[0] + 1.5, height: r1[1] - r0[1] },
  style: { fill: 'none', stroke: '#e5352b', lineWidth: 1.5, lineDash: [4, 2] }
});

// curved blue arrow to the "786 genes" label
var a0 = px(460, 1000);
g.push({
  type: 'bezierCurve', silent: true, z: 10,
  shape: { x1: a0[0], y1: a0[1] + 9, cpx1: a0[0] + 9, cpy1: 12, x2: 272, y2: 9.5 },
  style: { fill: 'none', stroke: '#2b6ba3', lineWidth: 2.5 }
});
g.push({
  type: 'polygon', silent: true, z: 10,
  shape: { points: [[270, 3], [285, 8.5], [271, 15.5]] },
  style: { fill: '#2b6ba3' }
});
g.push({
  type: 'text', silent: true, z: 10, x: 292, y: 13,
  style: { text: '786 genes (p < 0.05)', fontSize: 26, fontWeight: 'bold', fontFamily: FONT, fill: '#000',
    textAlign: 'left', textVerticalAlign: 'middle' }
});

// red flow arrow and box below the axis
var ax = px(85, 0.1);
g.push({
  type: 'line', silent: true, z: 10,
  shape: { x1: ax[0], y1: ax[1] - 4, x2: ax[0], y2: 578 },
  style: { stroke: '#c9291f', lineWidth: 2.5 }
});
g.push({
  type: 'rect', silent: true, z: 10,
  shape: { x: 27, y: 578, width: 500, height: 45 },
  style: { fill: '#fff', stroke: '#d6402f', lineWidth: 1.5 }
});
g.push({
  type: 'text', silent: true, z: 11, x: 277, y: 601,
  style: { text: 'Frameshift and segmentation analysis', fontSize: 26, fontFamily: FONT, fill: '#000',
    textAlign: 'center', textVerticalAlign: 'middle' }
});
g.push({
  type: 'line', silent: true, z: 10,
  shape: { x1: ax[0], y1: 623, x2: ax[0], y2: 648 },
  style: { stroke: '#c9291f', lineWidth: 2.5 }
});
g.push({
  type: 'polygon', silent: true, z: 10,
  shape: { points: [[ax[0] - 5.5, 645], [ax[0] + 5.5, 645], [ax[0], 658]] },
  style: { fill: '#c9291f' }
});
g.push({
  type: 'text', silent: true, z: 10, x: 22, y: 678,
  style: { text: '115 dosage sensitive genes (Copy number limit \u2264 10)', fontSize: 29.5, fontFamily: FONT, fill: '#000',
    textAlign: 'left', textVerticalAlign: 'middle' }
});

// axis titles
g.push({
  type: 'text', silent: true, z: 10, x: 18, y: 262, rotation: Math.PI / 2,
  style: { text: 'Copy number (\u2212Leu\u2212Ura)', fontSize: 33, fontFamily: FONT, fill: '#000',
    textAlign: 'center', textVerticalAlign: 'middle' }
});
g.push({
  type: 'text', silent: true, z: 10, x: 898, y: 587,
  style: { text: 'Gene ranked by the average copy number', fontSize: 33, fontFamily: FONT, fill: '#000',
    textAlign: 'center', textVerticalAlign: 'middle' }
});

// justified list of gene names
var ctx = document.createElement('canvas').getContext('2d');
ctx.font = 'italic bold 22px "Liberation Sans"';
var lineLeft = 10, lineRight = 1268, lineTop = 722, lineStep = 28;
geneLines.forEach(function (line, li) {
  var words = line.split(' ');
  var widths = words.map(function (w) { return ctx.measureText(w).width; });
  var total = widths.reduce(function (a, b) { return a + b; }, 0);
  var gap = ctx.measureText(' ').width;
  if (li < geneLines.length - 1) {
    gap = Math.max(3, (lineRight - lineLeft - total) / (words.length - 1));
  }
  var x = lineLeft;
  words.forEach(function (w, i) {
    g.push({
      type: 'text', silent: true, z: 10, x: x, y: lineTop + li * lineStep,
      style: { text: w, fontSize: 22, fontStyle: 'italic', fontWeight: 'bold', fontFamily: FONT, fill: '#000',
        textAlign: 'left', textVerticalAlign: 'middle' }
    });
    x += widths[i] + gap;
  });
});

chart.setOption({ graphic: { elements: g } });
</script>
</body>
</html>
